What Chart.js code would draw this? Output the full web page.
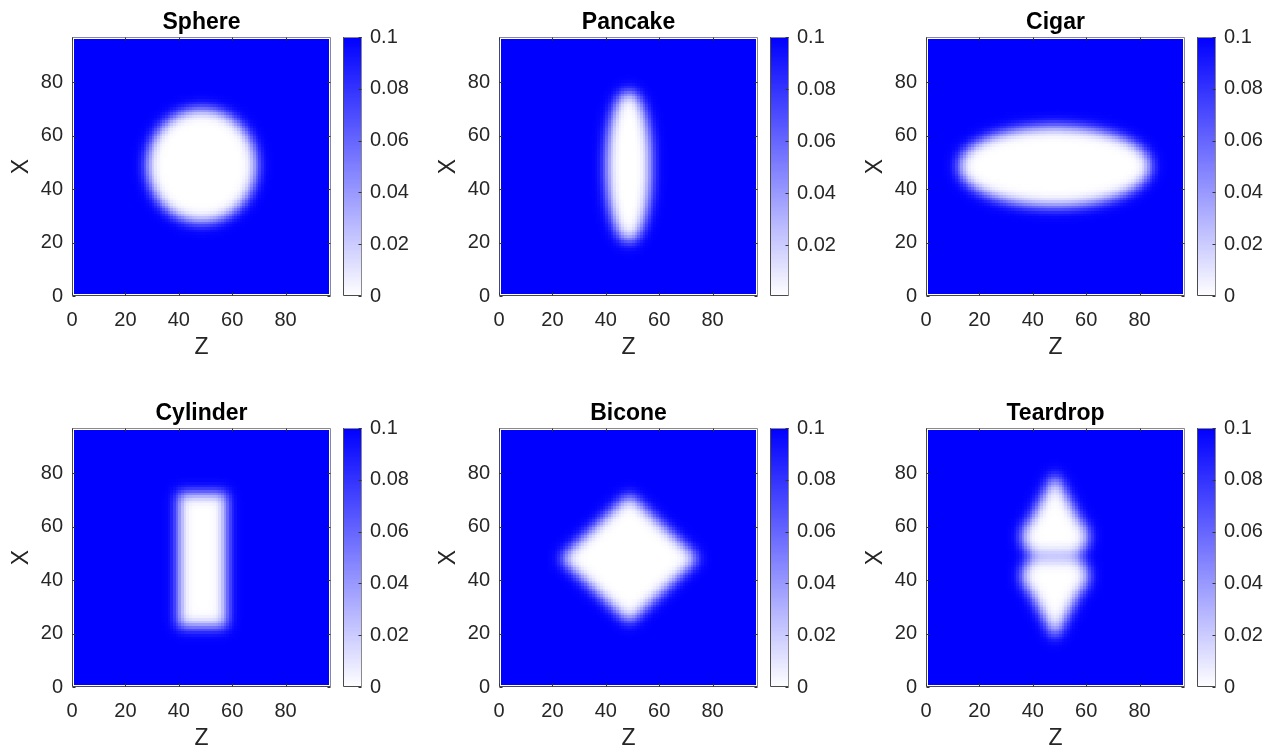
<!DOCTYPE html>
<html>
<head>
<meta charset="utf-8">
<script src="https://cdn.jsdelivr.net/npm/chart.js@4/dist/chart.umd.min.js"></script>
<style>
  html, body { margin: 0; padding: 0; background: #fff; }
  #wrap { position: relative; width: 1271px; height: 751px; overflow: hidden; }
  #wrap canvas { position: absolute; }
</style>
</head>
<body>
<div id="wrap"></div>
<script>
const panelTitles = ['Sphere', 'Pancake', 'Cigar', 'Cylinder', 'Bicone', 'Teardrop'];

// shape outlines, in axis units (Z, X)
// ellipse / box / diamond: [kind, centreZ, centreX, halfZ, halfX, (X from), (X to)]
// tri: [kind, centreZ, baseX, halfWidthAtBase, apexX]
const sphereParts = [['ellipse', 48.8, 49, 20.5, 21.3]];
const pancakeParts = [['ellipse', 48.8, 48.7, 8.3, 28.3]];
const cigarParts = [['ellipse', 48.4, 48.7, 36, 15]];
const cylinderParts = [['box', 49, 47.75, 9, 25]];
const biconeParts = [['diamond', 49, 48.25, 26, 24.2]];
const teardropParts = [
  ['tri', 48.5, 56.5, 12.5, 80.5], ['ellipse', 48.5, 56.5, 12.5, 9, 49.8, 99],
  ['tri', 48.5, 41.8, 12.5, 18], ['ellipse', 48.5, 41.8, 12.5, 9, 0, 48.4]
];
const panelParts = [sphereParts, pancakeParts, cigarParts, cylinderParts, biconeParts, teardropParts];

const axisTicks = [0, 20, 40, 60, 80];
const axisMax = 97;
const gridFirst = 1, gridLast = 96;
const edgeBlur = 2.3;
const colorMax = 0.1;
const colorMin = [0, 0.0006, 0, 0, 0, 0];
const colorTicks = [0, 0.02, 0.04, 0.06, 0.08, 0.1];

const FONT = "'Liberation Sans', Arial, Helvetica, sans-serif";
const TXT = '#262626';

function insidePart(p, z, x) {
  const kind = p[0];
  if (p.length > 5 && (x < p[5] || x > p[6])) return false;
  if (kind === 'ellipse') {
    const a = (z - p[1]) / p[3], b = (x - p[2]) / p[4];
    return a * a + b * b <= 1;
  }
  if (kind === 'box') return Math.abs(z - p[1]) <= p[3] && Math.abs(x - p[2]) <= p[4];
  if (kind === 'diamond') return Math.abs(z - p[1]) / p[3] + Math.abs(x - p[2]) / p[4] <= 1;
  if (kind === 'tri') {
    const t = (x - p[2]) / (p[4] - p[2]);
    return t >= 0 && t <= 1 && Math.abs(z - p[1]) <= p[3] * (1 - t);
  }
  return false;
}

function blur(mask, n, s) {
  const R = Math.ceil(s * 3.5);
  const k = [];
  let sum = 0;
  for (let d = -R; d <= R; d++) { const w = Math.exp(-d * d / (2 * s * s)); k.push(w); sum += w; }
  for (let i = 0; i < k.length; i++) k[i] /= sum;
  const tmp = new Float64Array(n * n), out = new Float64Array(n * n);
  for (let j = 0; j < n; j++) for (let i = 0; i < n; i++) {
    let acc = 0;
    for (let d = -R; d <= R; d++) { const ii = i + d; if (ii >= 0 && ii < n) acc += k[d + R] * mask[j * n + ii]; }
    tmp[j * n + i] = acc;
  }
  for (let j = 0; j < n; j++) for (let i = 0; i < n; i++) {
    let acc = 0;
    for (let d = -R; d <= R; d++) { const jj = j + d; if (jj >= 0 && jj < n) acc += k[d + R] * tmp[jj * n + i]; }
    out[j * n + i] = acc;
  }
  return out;
}

function buildCells(parts) {
  const n = gridLast - gridFirst, sub = 4;
  const mask = new Float64Array(n * n);
  for (let j = 0; j < n; j++) for (let i = 0; i < n; i++) {
    let hit = 0;
    for (let a = 0; a < sub; a++) for (let b = 0; b < sub; b++) {
      const z = gridFirst + i + (a + 0.5) / sub, x = gridFirst + j + (b + 0.5) / sub;
      if (parts.some(p => insidePart(p, z, x))) hit++;
    }
    mask[j * n + i] = hit / (sub * sub);
  }
  const b = blur(mask, n, edgeBlur);
  const cells = [];
  for (let j = 0; j < n; j++) for (let i = 0; i < n; i++) {
    cells.push({ x: gridFirst + i + 0.5, y: gridFirst + j + 0.5, v: colorMax * (1 - Math.min(1, b[j * n + i])) });
  }
  return cells;
}

function cellColor(v, lo, hi) {
  let t = (v - lo) / (hi - lo);
  t = Math.max(0, Math.min(1, t));
  const c = Math.round(255 * (1 - t));
  return `rgb(${c},${c},255)`;
}

const cellPlugin = {
  id: 'cells',
  beforeDatasetsDraw(chart) {
    const { ctx, chartArea, scales: { x, y } } = chart;
    const ds = chart.data.datasets[0];
    ctx.save();
    ctx.beginPath();
    ctx.rect(chartArea.left, chartArea.top, chartArea.width, chartArea.height);
    ctx.clip();
    ds.data.forEach(c => {
      const L = Math.floor(x.getPixelForValue(c.x - ds.cellW / 2));
      const R = Math.ceil(x.getPixelForValue(c.x + ds.cellW / 2));
      const T = Math.floor(y.getPixelForValue(c.y + ds.cellH / 2));
      const B = Math.ceil(y.getPixelForValue(c.y - ds.cellH / 2));
      ctx.fillStyle = cellColor(c.v, ds.colorLo, ds.colorHi);
      ctx.fillRect(L, T, R - L, B - T);
    });
    ctx.restore();
  }
};

const framePlugin = {
  id: 'frame',
  afterDatasetsDraw(chart, args, opts) {
    const { ctx, chartArea: a, scales: { x, y } } = chart;
    const L = Math.round(a.left) + 0.5, R = Math.round(a.right) - 0.5;
    const T = Math.round(a.top) + 0.5, B = Math.round(a.bottom) - 0.5;
    const tl = 3;
    ctx.save();
    ctx.lineWidth = 1;
    ctx.strokeStyle = '#8a8a8a';
    ctx.beginPath();
    ctx.moveTo(L, T); ctx.lineTo(R, T); ctx.lineTo(R, B);
    ctx.stroke();
    ctx.strokeStyle = '#4a4a4a';
    ctx.beginPath();
    ctx.moveTo(L, T); ctx.lineTo(L, B); ctx.lineTo(R, B);
    ctx.stroke();
    ctx.strokeStyle = '#333';
    ctx.beginPath();
    if (opts.colorbar) {
      y.ticks.forEach(t => {
        const py = Math.round(y.getPixelForValue(t.value)) + 0.5;
        ctx.moveTo(R, py); ctx.lineTo(R - tl, py);
      });
    } else {
      x.ticks.forEach(t => {
        const px = Math.round(x.getPixelForValue(t.value)) + 0.5;
        ctx.moveTo(px, B); ctx.lineTo(px, B - tl);
        ctx.moveTo(px, T); ctx.lineTo(px, T + tl);
      });
      y.ticks.forEach(t => {
        const py = Math.round(y.getPixelForValue(t.value)) + 0.5;
        ctx.moveTo(L, py); ctx.lineTo(L + tl, py);
        ctx.moveTo(R, py); ctx.lineTo(R - tl, py);
      });
    }
    ctx.stroke();
    ctx.restore();
  }
};

const boxLefts = [72, 499, 926];
const boxTops = [37, 428];
const boxSize = 259;
const cbGap = 271, cbWidth = 19;
const wrap = document.getElementById('wrap');

function addCanvas(left, top, w, h) {
  const c = document.createElement('canvas');
  c.width = w; c.height = h;
  c.style.left = left + 'px'; c.style.top = top + 'px';
  c.style.width = w + 'px'; c.style.height = h + 'px';
  wrap.appendChild(c);
  return c;
}

const noGrid = { display: false, drawTicks: false };

panelTitles.forEach((title, k) => {
  const col = k % 3, row = Math.floor(k / 3);
  const bl = boxLefts[col], bt = boxTops[row];
  const lo = colorMin[k];

  // heat map panel
  const cv = addCanvas(bl - 72, bt - 37, 72 + boxSize + 4, 37 + boxSize + 62);
  new Chart(cv, {
    type: 'scatter',
    data: { datasets: [{ data: buildCells(panelParts[k]), pointRadius: 0, cellW: 1, cellH: 1, colorLo: lo, colorHi: colorMax }] },
    options: {
      responsive: false, animation: false, events: [],
      layout: { padding: { left: 0, right: 4, top: 0, bottom: 0 } },
      plugins: {
        legend: { display: false }, tooltip: { enabled: false },
        frame: { colorbar: false },
        title: {
          display: true, text: title, fullSize: false, color: '#000',
          font: { family: FONT, size: 23, weight: 'bold', lineHeight: 1.2 },
          padding: { top: 8.7, bottom: 0.7 }
        }
      },
      scales: {
        x: {
          type: 'linear', min: 0, max: axisMax,
          afterBuildTicks: s => { s.ticks = axisTicks.map(v => ({ value: v })); },
          afterFit: s => { s.height = 62; },
          grid: noGrid, border: { display: false },
          ticks: { color: TXT, font: { family: FONT, size: 20 }, padding: 12.3, maxRotation: 0 },
          title: { display: true, text: 'Z', color: TXT, font: { family: FONT, size: 23, lineHeight: 0.9 }, padding: { top: 0, bottom: 0 } }
        },
        y: {
          type: 'linear', min: 0, max: axisMax,
          afterBuildTicks: s => { s.ticks = axisTicks.map(v => ({ value: v })); },
          afterFit: s => { s.width = 72; },
          grid: noGrid, border: { display: false },
          ticks: { color: TXT, font: { family: FONT, size: 20 }, padding: 9 },
          title: { display: true, text: 'X', color: TXT, font: { family: FONT, size: 23, lineHeight: 0.9 }, padding: { top: 11.5, bottom: 0 } }
        }
      }
    },
    plugins: [cellPlugin, framePlugin]
  });

  // colour bar
  const levels = [];
  const nLev = 200, step = (colorMax - lo) / nLev;
  for (let i = 0; i < nLev; i++) levels.push({ x: 0.5, y: lo + (i + 0.5) * step, v: lo + (i + 0.5) * step });
  const cb = addCanvas(bl + cbGap, bt - 37, cbWidth + 60, 37 + boxSize + 62);
  new Chart(cb, {
    type: 'scatter',
    data: { datasets: [{ data: levels, pointRadius: 0, cellW: 1, cellH: step, colorLo: lo, colorHi: colorMax }] },
    options: {
      responsive: false, animation: false, events: [],
      layout: { padding: { left: 0, right: 0, top: 37, bottom: 62 } },
      plugins: { legend: { display: false }, tooltip: { enabled: false }, frame: { colorbar: true } },
      scales: {
        x: { type: 'linear', min: 0, max: 1, display: false },
        y: {
          type: 'linear', position: 'right', min: lo, max: colorMax,
          afterBuildTicks: s => { s.ticks = colorTicks.filter(v => v >= lo - 1e-9).map(v => ({ value: v })); },
          afterFit: s => { s.width = 60; },
          grid: noGrid, border: { display: false },
          ticks: { color: TXT, font: { family: FONT, size: 20 }, padding: 8, callback: v => String(+v.toFixed(2)) }
        }
      }
    },
    plugins: [cellPlugin, framePlugin]
  });
});
</script>
</body>
</html>
